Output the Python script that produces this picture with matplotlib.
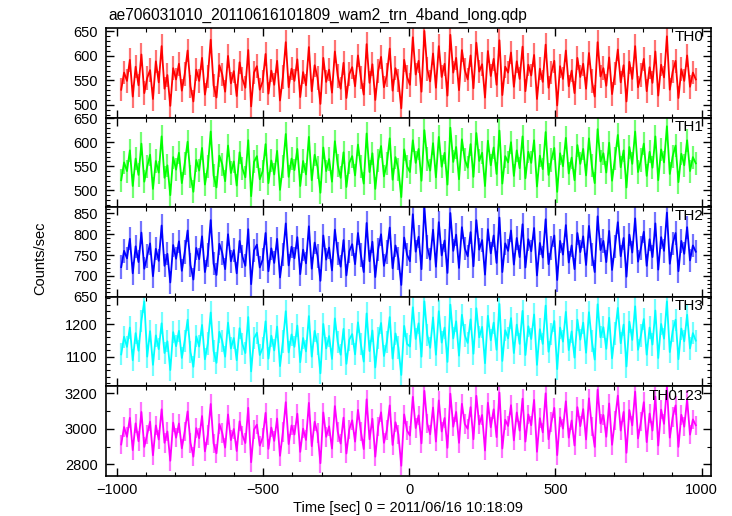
import numpy as np
import matplotlib.pyplot as plt
from matplotlib.ticker import MultipleLocator

plt.rcParams['font.family'] = ['Liberation Sans', 'DejaVu Sans']

title = "ae706031010_20110616101809_wam2_trn_4band_long.qdp"
xlabel = "Time [sec] 0 = 2011/06/16 10:18:09"
ylabel = "Counts/sec"

# Band names and colours
bands = ["TH0", "TH1", "TH2", "TH3", "TH0123"]
colors = ["#ff0000", "#00ff00", "#0000ff", "#00ffff", "#ff00ff"]

# Rates (counts/sec), coarse estimate of the trace
th0 = [531, 566, 549, 592, 517, 578, 540, 603, 524, 555, 571, 512, 589, 546, 620, 533, 561, 498, 575, 552,
       584, 529, 563, 611, 538, 507, 572, 549, 596, 521, 558, 633, 540, 515, 581, 562, 527, 600, 544, 569,
       518, 587, 553, 535, 612, 497, 566, 579, 531, 548, 604, 523, 570, 541, 590, 509, 557, 628, 536, 574,
       549, 593, 516, 567, 540, 618, 528, 581, 555, 502, 596, 547, 572, 525, 609, 559, 533, 586, 514, 563,
       577, 538, 601, 556, 521, 624, 545, 583, 510, 569, 598, 536, 561, 615, 529, 575, 550, 493, 592, 557,
       541, 638, 562, 590, 527, 651, 573, 548, 605, 535, 620, 557, 584, 519, 643, 566, 596, 530, 612, 571,
       552, 601, 534, 627, 568, 583, 515, 610, 559, 594, 541, 632, 520, 578, 566, 607, 537, 589, 553, 619,
       528, 582, 560, 602, 512, 574, 547, 623, 535, 566, 590, 499, 579, 553, 611, 538, 570, 524, 596, 557,
       584, 533, 606, 549, 517, 628, 558, 575, 539, 597, 522, 564, 613, 546, 581, 507, 588, 553, 620, 536,
       561, 594, 528, 577, 545, 609, 519, 582, 556, 640, 531, 568, 590, 514, 573, 549, 601, 537, 566, 552]

th1 = [521, 558, 540, 583, 509, 566, 532, 597, 518, 549, 574, 503, 561, 537, 612, 526, 552, 490, 569, 543,
       578, 515, 556, 601, 529, 497, 563, 541, 588, 512, 549, 622, 531, 506, 572, 554, 519, 593, 536, 560,
       510, 579, 545, 527, 604, 488, 559, 571, 523, 540, 596, 515, 562, 533, 582, 501, 550, 617, 528, 566,
       542, 586, 509, 561, 533, 611, 521, 574, 548, 495, 589, 540, 565, 518, 602, 552, 526, 579, 507, 557,
       571, 531, 595, 549, 514, 618, 538, 577, 503, 562, 592, 529, 555, 608, 522, 569, 543, 486, 585, 550,
       538, 604, 557, 586, 520, 625, 565, 541, 598, 527, 611, 549, 578, 512, 630, 559, 590, 523, 606, 564,
       547, 596, 528, 619, 561, 578, 509, 603, 552, 589, 534, 624, 514, 571, 558, 600, 530, 583, 546, 612,
       525, 580, 557, 604, 508, 572, 544, 621, 532, 563, 588, 497, 577, 550, 609, 535, 568, 521, 594, 555,
       586, 531, 608, 551, 515, 627, 560, 577, 537, 599, 520, 566, 615, 548, 583, 506, 590, 555, 622, 538,
       563, 597, 530, 580, 547, 612, 521, 585, 558, 633, 534, 571, 593, 517, 576, 552, 604, 540, 569, 556]

th2 = [721, 760, 742, 789, 706, 771, 733, 804, 717, 748, 778, 699, 765, 736, 821, 724, 753, 684, 774, 741,
       783, 712, 757, 809, 726, 691, 767, 740, 795, 709, 750, 834, 729, 702, 777, 755, 716, 800, 735, 762,
       706, 784, 746, 724, 812, 680, 761, 775, 720, 739, 803, 711, 766, 731, 789, 696, 751, 826, 725, 770,
       742, 793, 704, 763, 730, 819, 717, 780, 748, 688, 797, 739, 768, 713, 811, 754, 722, 786, 701, 759,
       776, 728, 803, 750, 709, 827, 735, 782, 697, 764, 800, 724, 757, 816, 718, 773, 742, 678, 792, 751,
       735, 848, 758, 794, 716, 866, 769, 739, 811, 722, 829, 749, 785, 707, 851, 760, 799, 719, 817, 766,
       747, 805, 723, 834, 763, 786, 703, 812, 754, 797, 731, 840, 709, 778, 760, 809, 727, 791, 745, 824,
       720, 788, 759, 815, 701, 779, 744, 836, 728, 767, 797, 690, 784, 751, 822, 732, 773, 716, 803, 757,
       795, 726, 820, 752, 709, 843, 762, 784, 733, 808, 714, 770, 829, 747, 791, 698, 799, 756, 838, 734,
       767, 806, 724, 788, 745, 826, 715, 793, 760, 852, 729, 777, 803, 711, 784, 753, 817, 737, 773, 758]

th3 = [1108, 1162, 1131, 1190, 1090, 1173, 1119, 1211, 1270, 1101, 1179, 1076, 1166, 1124, 1203, 1112, 1148, 1060, 1176, 1133,
       1180, 1097, 1150, 1214, 1115, 1070, 1163, 1132, 1198, 1093, 1141, 1236, 1118, 1082, 1177, 1148, 1101, 1205, 1126, 1158,
       1090, 1188, 1139, 1112, 1222, 1056, 1157, 1174, 1106, 1128, 1209, 1095, 1165, 1120, 1193, 1072, 1147, 1240, 1114, 1169,
       1131, 1196, 1084, 1158, 1117, 1225, 1101, 1180, 1139, 1050, 1201, 1126, 1164, 1094, 1218, 1145, 1107, 1186, 1079, 1153,
       1170, 1108, 1206, 1139, 1086, 1233, 1118, 1181, 1068, 1158, 1204, 1103, 1146, 1222, 1095, 1172, 1129, 1045, 1195, 1140,
       1132, 1252, 1155, 1203, 1101, 1270, 1168, 1128, 1221, 1107, 1240, 1144, 1190, 1085, 1260, 1157, 1209, 1104, 1229, 1166,
       1143, 1215, 1110, 1249, 1160, 1192, 1081, 1226, 1151, 1205, 1122, 1262, 1088, 1182, 1157, 1219, 1112, 1199, 1140, 1241,
       1106, 1194, 1155, 1230, 1076, 1185, 1140, 1257, 1116, 1170, 1210, 1063, 1190, 1147, 1238, 1121, 1178, 1098, 1214, 1153,
       1205, 1113, 1237, 1149, 1092, 1261, 1160, 1191, 1125, 1220, 1096, 1172, 1250, 1142, 1199, 1071, 1208, 1152, 1255, 1122,
       1166, 1216, 1107, 1190, 1138, 1242, 1097, 1201, 1156, 1270, 1115, 1180, 1214, 1093, 1187, 1148, 1229, 1126, 1173, 1150]

th0123 = [2912, 3010, 2955, 3062, 2880, 3031, 2930, 3095, 2898, 2968, 3040, 2851, 3019, 2940, 3110, 2921, 2985, 2820, 3035, 2950,
          3030, 2890, 2985, 3098, 2921, 2843, 3004, 2947, 3072, 2873, 2966, 3140, 2918, 2862, 3027, 2977, 2894, 3081, 2936, 2999,
          2875, 3042, 2963, 2920, 3118, 2812, 2996, 3023, 2905, 2951, 3090, 2887, 3007, 2932, 3058, 2848, 2981, 3150, 2914, 3019,
          2968, 3085, 2870, 3001, 2937, 3146, 2902, 3040, 2975, 2806, 3092, 2955, 3014, 2889, 3128, 2983, 2917, 3063, 2861, 2996,
          3048, 2928, 3107, 2986, 2886, 3166, 2941, 3057, 2843, 3012, 3093, 2921, 2992, 3132, 2909, 3037, 2968, 2792, 3081, 2990,
          2962, 3180, 3004, 3076, 2918, 3214, 3030, 2969, 3120, 2928, 3160, 2985, 3061, 2893, 3198, 3012, 3095, 2921, 3141, 3027,
          3000, 3122, 2941, 3186, 3025, 3078, 2878, 3147, 3009, 3110, 2953, 3204, 2889, 3051, 3016, 3133, 2935, 3092, 2990, 3170,
          2928, 3081, 3020, 3163, 2871, 3060, 2980, 3200, 2941, 3037, 3118, 2852, 3065, 3001, 3155, 2950, 3047, 2906, 3122, 3015,
          3111, 2940, 3172, 3012, 2898, 3220, 3030, 3078, 2955, 3143, 2910, 3046, 3187, 2990, 3095, 2865, 3106, 3019, 3209, 2946,
          3040, 3150, 2925, 3086, 2990, 3182, 2906, 3108, 3028, 3235, 2950, 3066, 3132, 2898, 3079, 3012, 3165, 2967, 3053, 3020]

series = [th0, th1, th2, th3, th0123]

# Typical 1-sigma error bar per band (counts/sec), as seen in the picture
errs = [24, 24, 28, 34, 55]

# Time bins from -985 s to 980 s
times = np.linspace(-985, 980, len(th0))

# Axis ranges and tick steps per panel
ylims = [(474, 657), (465, 651), (649.5, 865), (1010, 1284), (2734, 3239)]
ymajor = [50, 50, 50, 100, 200]
yminor = [10, 10, 10, 20, 100]

fig, axes = plt.subplots(5, 1, sharex=True, figsize=(7.32, 5.16), dpi=100)
fig.subplots_adjust(left=0.1448, right=0.9713, top=0.9457, bottom=0.0775, hspace=0)

for i, ax in enumerate(axes):
    ax.errorbar(times, series[i], yerr=errs[i], fmt='none', ecolor=colors[i],
                elinewidth=1.6, alpha=0.55)
    ax.plot(times, series[i], color=colors[i], lw=1.3)
    ax.set_ylim(ylims[i])
    ax.set_xlim(-1037, 1032)
    ax.yaxis.set_major_locator(MultipleLocator(ymajor[i]))
    ax.yaxis.set_minor_locator(MultipleLocator(yminor[i]))
    ax.xaxis.set_major_locator(MultipleLocator(500))
    ax.xaxis.set_minor_locator(MultipleLocator(100))
    ax.tick_params(which='both', direction='in', top=True, right=True, labelsize=10.5)
    ax.tick_params(which='major', length=6, width=1.0)
    ax.tick_params(which='minor', length=3, width=0.8)
    ax.tick_params(axis='y', pad=6)
    ax.tick_params(axis='x', pad=5)
    for s in ax.spines.values():
        s.set_linewidth(1.2)
        s.set_zorder(5)
    ax.text(0.987, 0.975, bands[i], transform=ax.transAxes, ha='right', va='top', fontsize=11)

axes[-1].set_xticks([-1000, -500, 0, 500, 1000])
axes[-1].set_xticklabels(["\u22121000", "\u2212500", "0", "500", "1000"])
axes[-1].set_xlabel(xlabel, fontsize=10.5, labelpad=3)
fig.text(0.055, 0.5, ylabel, rotation=90, ha='center', va='center', fontsize=10.5)
fig.text(0.1475, 0.961, title, ha='left', va='baseline', fontsize=11.2)

plt.savefig("out.png", dpi=100)
